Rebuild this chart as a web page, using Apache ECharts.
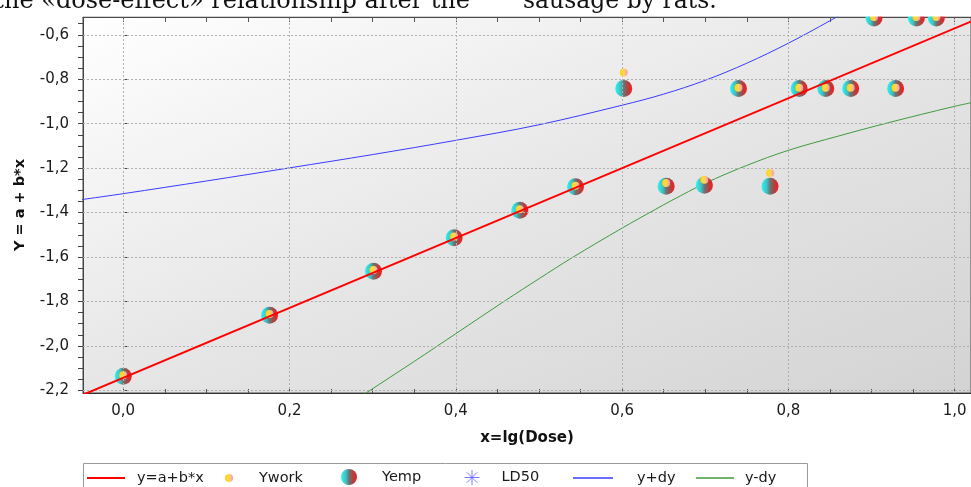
<!DOCTYPE html>
<html><head><meta charset="utf-8">
<script src="https://cdn.jsdelivr.net/npm/echarts@6/dist/echarts.min.js"></script>
<style>html,body{margin:0;padding:0;background:#fff}#c{width:971px;height:487px}</style>
</head><body><div id="c"></div>
<script>
// ---- data ----
const xEmp  = [0.000, 0.176, 0.301, 0.398, 0.477, 0.544, 0.602, 0.653, 0.699, 0.740, 0.778, 0.813, 0.845, 0.875, 0.903, 0.929, 0.954, 0.978];
const yEmp  = [-2.137, -1.862, -1.664, -1.513, -1.390, -1.284, -0.842, -1.282, -1.277, -0.842, -1.282, -0.842, -0.842, -0.842, -0.524, -0.842, -0.524, -0.524];
const yWork = [-2.132, -1.857, -1.659, -1.508, -1.385, -1.279, -0.770, -1.267, -1.252, -0.838, -1.222, -0.838, -0.838, -0.838, -0.520, -0.838, -0.520, -0.520];
const xFit  = [-0.06, 1.03];
const yFit  = [-2.238, -0.524];
const xPlus = [-0.06, 0.0, 0.1, 0.2, 0.3, 0.4, 0.5, 0.6, 0.65, 0.7, 0.75, 0.8, 0.85, 0.9];
const yPlus = [-1.347, -1.315, -1.258, -1.199, -1.139, -1.075, -1.005, -0.917, -0.867, -0.805, -0.728, -0.638, -0.537, -0.430];
const xMinus = [0.28, 0.292, 0.35, 0.4, 0.46, 0.5, 0.54, 0.6, 0.64, 0.66, 0.7, 0.75, 0.8, 0.86, 0.92, 1.0, 1.03];
const yMinus = [-2.242, -2.212, -2.07, -1.945, -1.795, -1.698, -1.603, -1.470, -1.386, -1.345, -1.268, -1.188, -1.120, -1.056, -0.996, -0.922, -0.898];
const xLabelValues = [0, 0.2, 0.4, 0.6, 0.8, 1.0];
const xTickValues = [0, 0.05, 0.1, 0.15, 0.2, 0.25, 0.3, 0.35, 0.4, 0.45, 0.5, 0.55, 0.6, 0.65, 0.7, 0.75, 0.8, 0.85, 0.9, 0.95, 1.0];
const yLabelValues = [-2.2, -2.0, -1.8, -1.6, -1.4, -1.2, -1.0, -0.8, -0.6];
const yTickValues = [-2.2, -2.15, -2.1, -2.05, -2.0, -1.95, -1.9, -1.85, -1.8, -1.75, -1.7, -1.65, -1.6, -1.55, -1.5, -1.45, -1.4, -1.35, -1.3, -1.25, -1.2, -1.15, -1.1, -1.05, -1.0, -0.95, -0.9, -0.85, -0.8, -0.75, -0.7, -0.65, -0.6, -0.55];
const seriesNames = ['y=a+b*x', 'Ywork', 'Yemp', 'LD50', 'y+dy', 'y-dy'];
const xName = 'x=lg(Dose)';
const yName = 'Y = a + b*x';
const captionA = 'the «dose-effect» relationship after the';
const captionB = 'sausage by rats.';

const pairs = (xs, ys) => xs.map((x, i) => [x, ys[i]]);
const fmt = v => Number(v).toFixed(1).replace('.', ',');
const FONT = 'DejaVu Sans';
const RED = '#ff0000', BLUE = '#3a3aff', GREEN = '#3f9a3f';
const sphere = {type:'linear', x:0, y:0, x2:1, y2:0, colorStops:[
  {offset:0, color:'#2ef2f2'}, {offset:0.3, color:'#3cc4c4'}, {offset:0.5, color:'#6b7474'},
  {offset:0.72, color:'#a44848'}, {offset:1, color:'#ff1818'}]};
const dot = {type:'linear', x:0, y:0, x2:1, y2:0, colorStops:[
  {offset:0, color:'#ffd21a'}, {offset:0.55, color:'#ffd84a'}, {offset:1, color:'#ff8ed0'}]};
const XMIN = -0.0484, XMAX = 1.0197, YMIN = -2.212, YMAX = -0.52;

const xCommon = {type:'value', min:XMIN, max:XMAX, splitLine:{show:false}};
const yCommon = {type:'value', min:YMIN, max:YMAX, splitLine:{show:false}};

const gridMarks = {
  silent:true, symbol:['none','none'], label:{show:false}, animation:false,
  lineStyle:{color:'#b0b0b0', type:[2,2], width:1},
  data: xLabelValues.map(v => ({xAxis:v})).concat(yLabelValues.map(v => ({yAxis:v})))
};

function leg(name, left, top, w, h, pad, extra) {
  return Object.assign({
    data:[name], left:left, top:top, itemWidth:w, itemHeight:h, padding:0, orient:'horizontal',
    selectedMode:false, z:20,
    textStyle:{fontFamily:FONT, fontSize:14.5, color:'#1a1a1a', padding:[0,0,0,pad]}
  }, extra || {});
}
const lineIcon = c => ({icon:'rect', itemStyle:{color:c, borderWidth:0, opacity:1}});

const option = {
  animation:false,
  backgroundColor:'#ffffff',
  grid:{left:83, top:17, width:890, height:376, show:true,
    backgroundColor:{type:'linear', global:true, x:83, y:17, x2:352.6, y2:655.2, colorStops:[
      {offset:0, color:'#ffffff'}, {offset:0.5, color:'#e6e6e6'}, {offset:1, color:'#d3d3d3'}]},
    borderColor:'#4a4a4a', borderWidth:1},
  xAxis:[
    Object.assign({}, xCommon, {position:'bottom', name:xName, nameLocation:'middle', nameGap:38,
      nameTextStyle:{fontFamily:FONT, fontSize:15, fontWeight:'bold', color:'#111'},
      axisLine:{show:true, onZero:false, lineStyle:{color:'#333', width:1}},
      axisTick:{show:true, inside:true, length:4, customValues:xTickValues, lineStyle:{color:'#555'}},
      axisLabel:{show:true, customValues:xLabelValues, formatter:fmt, margin:11,
        fontFamily:FONT, fontSize:15, color:'#1a1a1a'}}),
    Object.assign({}, xCommon, {position:'top', axisLine:{show:true, onZero:false, lineStyle:{color:'#4a4a4a'}},
      axisTick:{show:true, inside:true, length:5, customValues:xTickValues, lineStyle:{color:'#555'}},
      axisLabel:{show:false}})
  ],
  yAxis:[
    Object.assign({}, yCommon, {position:'left', name:yName, nameLocation:'middle', nameGap:55,
      nameTextStyle:{fontFamily:FONT, fontSize:14.5, fontWeight:'bold', color:'#111'},
      axisLine:{show:true, onZero:false, lineStyle:{color:'#444', width:1}},
      axisTick:{show:true, inside:false, length:5, customValues:yTickValues, lineStyle:{color:'#444'}},
      axisLabel:{show:true, customValues:yLabelValues, formatter:fmt, margin:14,
        fontFamily:FONT, fontSize:15, color:'#1a1a1a'}}),
    Object.assign({}, yCommon, {position:'left', axisLine:{show:false},
      axisTick:{show:true, inside:true, length:4, customValues:yLabelValues, lineStyle:{color:'#444'}},
      axisLabel:{show:false}})
  ],
  legend:[
    leg(seriesNames[0], 87, 470.5, 38, 2, 7, lineIcon(RED)),
    leg(seriesNames[1], 225, 470.5, 8, 8, 21),
    leg(seriesNames[2], 341, 469, 16, 16, 20),
    leg(seriesNames[3], 464, 469.5, 15, 15, 17, {itemStyle:{color:'rgba(0,0,0,0)', borderColor:'#5a5aff', borderWidth:1}}),
    leg(seriesNames[4], 573, 470.5, 40, 1.3, 19, lineIcon(BLUE)),
    leg(seriesNames[5], 696, 470.5, 38, 1.3, 6, lineIcon(GREEN))
  ],
  graphic:[
    {type:'rect', z:50, silent:true, shape:{x:83, y:0, width:900, height:16.5}, style:{fill:'#ffffff'}},
    {type:'text', z:51, silent:true, x:470, y:2, style:{text:captionA, fontFamily:'DejaVu Serif', fontSize:24,
      fill:'#111', align:'right', verticalAlign:'middle'}},
    {type:'text', z:51, silent:true, x:523, y:2, style:{text:captionB, fontFamily:'DejaVu Serif', fontSize:23.5,
      fill:'#111', align:'left', verticalAlign:'middle'}},
    {type:'rect', z:1, silent:true, shape:{x:83.5, y:463.5, width:724, height:40}, style:{fill:'#ffffff', stroke:'#9a9a9a', lineWidth:1}}
  ],
  series:[
    {name:seriesNames[5], type:'line', z:1, data:pairs(xMinus, yMinus), smooth:0.35, symbol:'none',
      lineStyle:{color:GREEN, width:1}, itemStyle:{color:GREEN}, clip:true, markLine:gridMarks},
    {name:seriesNames[4], type:'line', z:2, data:pairs(xPlus, yPlus), smooth:0.35, symbol:'none',
      lineStyle:{color:BLUE, width:1}, itemStyle:{color:BLUE}, clip:true},
    {name:seriesNames[3], type:'scatter', z:3, data:[], symbol:'path://M0,-10L0,10M-10,0L10,0M-7,-7L7,7M-7,7L7,-7',
      itemStyle:{color:'rgba(0,0,0,0)', borderColor:'#5a5aff', borderWidth:1}},
    {name:seriesNames[2], type:'scatter', z:4, data:pairs(xEmp, yEmp), symbol:'circle', symbolSize:17,
      itemStyle:{color:sphere, opacity:1}},
    {name:seriesNames[1], type:'scatter', z:5, data:pairs(xEmp, yWork), symbol:'circle', symbolSize:8,
      itemStyle:{color:dot, opacity:1}},
    {name:seriesNames[0], type:'line', z:6, data:pairs(xFit, yFit), symbol:'none',
      lineStyle:{color:RED, width:2}, itemStyle:{color:RED}, clip:true}
  ]
};
echarts.init(document.getElementById('c'), null, {renderer:'canvas'}).setOption(option);
</script></body></html>
